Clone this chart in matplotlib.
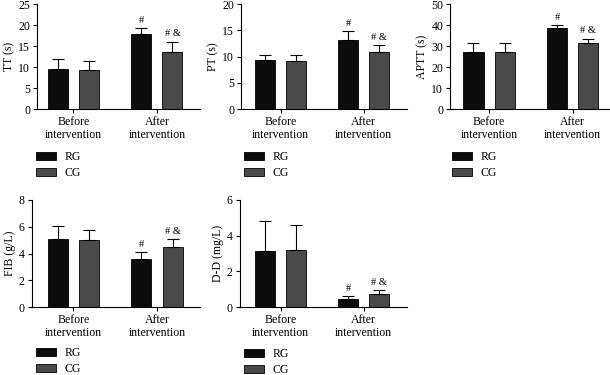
import numpy as np
import matplotlib
matplotlib.use('Agg')
import matplotlib.pyplot as plt
from matplotlib.patches import Patch

plt.rcParams['font.family'] = ['Liberation Serif', 'DejaVu Serif']
plt.rcParams['font.size'] = 8

# data: [before, after] for RG and CG, with upper error
groups = ['Before\nintervention', 'After\nintervention']
tt_rg = [9.6, 18.0];   tt_rg_err = [2.4, 1.2]
tt_cg = [9.2, 13.6];   tt_cg_err = [2.3, 2.5]
pt_rg = [9.4, 13.2];   pt_rg_err = [1.0, 1.6]
pt_cg = [9.2, 10.8];   pt_cg_err = [1.2, 1.4]
aptt_rg = [27.2, 38.4]; aptt_rg_err = [4.2, 1.8]
aptt_cg = [27.0, 31.5]; aptt_cg_err = [4.6, 2.1]
fib_rg = [5.1, 3.6];   fib_rg_err = [0.95, 0.5]
fib_cg = [5.0, 4.45];  fib_cg_err = [0.75, 0.6]
dd_rg = [3.15, 0.45];  dd_rg_err = [1.65, 0.18]
dd_cg = [3.22, 0.75];  dd_cg_err = [1.36, 0.2]

panels = [
    ('TT (s)', tt_rg, tt_rg_err, tt_cg, tt_cg_err, 25, 5, [0.0607, 0.709, 0.267, 0.28], (-0.437, 1.515), (36, 151)),
    ('PT (s)', pt_rg, pt_rg_err, pt_cg, pt_cg_err, 20, 5, [0.395, 0.709, 0.272, 0.28], (-0.48, 1.52), (244, 151)),
    ('APTT (s)', aptt_rg, aptt_rg_err, aptt_cg, aptt_cg_err, 50, 10, [0.738, 0.709, 0.26, 0.28], (-0.464, 1.43), (452, 151)),
    ('FIB (g/L)', fib_rg, fib_rg_err, fib_cg, fib_cg_err, 8, 2, [0.052, 0.181, 0.276, 0.286], (-0.497, 1.515), (36, 347)),
    ('D-D (mg/L)', dd_rg, dd_rg_err, dd_cg, dd_cg_err, 6, 2, [0.393, 0.181, 0.274, 0.286], (-0.494, 1.52), (244, 348)),
]

rg_color = '#0d0d0d'
cg_color = '#4a4a4a'

fig = plt.figure(figsize=(6.1, 3.75), dpi=100)

x = np.arange(len(groups))
w = 0.24
off = 0.186

for ylab, rg, rge, cg, cge, ymax, step, pos, xl, lg in panels:
    ax = fig.add_axes(pos)
    ax.bar(x - off, rg, w, color=rg_color, edgecolor='black', linewidth=0.6,
           yerr=[np.zeros(2), rge], error_kw=dict(ecolor='black', elinewidth=0.8, capsize=4, capthick=0.8))
    ax.bar(x + off, cg, w, color=cg_color, edgecolor='black', linewidth=0.6,
           yerr=[np.zeros(2), cge], error_kw=dict(ecolor='black', elinewidth=0.8, capsize=4, capthick=0.8))
    # significance marks on the after group
    pad = ymax * 0.03
    ax.text(x[1] - off, rg[1] + rge[1] + pad, '#', ha='center', va='bottom', fontsize=7.5)
    ax.text(x[1] + off, cg[1] + cge[1] + pad, '# &', ha='center', va='bottom', fontsize=7.5)

    ax.set_ylim(0, ymax)
    ax.set_yticks(np.arange(0, ymax + step / 2, step))
    ax.set_xlim(*xl)
    ax.set_xticks(x)
    ax.set_xticklabels(groups, fontsize=8.5, linespacing=1.1)
    ax.set_ylabel(ylab, fontsize=8.5, labelpad=2)
    for s in ['top', 'right']:
        ax.spines[s].set_visible(False)
    ax.spines['left'].set_linewidth(0.8)
    ax.spines['bottom'].set_linewidth(0.8)
    ax.tick_params(axis='both', direction='out', length=3, width=0.8, labelsize=8.5, pad=2)

    handles = [Patch(facecolor=rg_color, edgecolor='black', linewidth=0.6),
               Patch(facecolor=cg_color, edgecolor='black', linewidth=0.6)]
    fig.legend(handles, ['RG', 'CG'], loc='upper left',
               bbox_to_anchor=(lg[0] / 610, 1 - lg[1] / 375),
               frameon=False, fontsize=8.5, handlelength=1.7, handleheight=0.6,
               handletextpad=0.7, labelspacing=0.35, borderpad=0, borderaxespad=0)

fig.savefig('out.png', dpi=100)
